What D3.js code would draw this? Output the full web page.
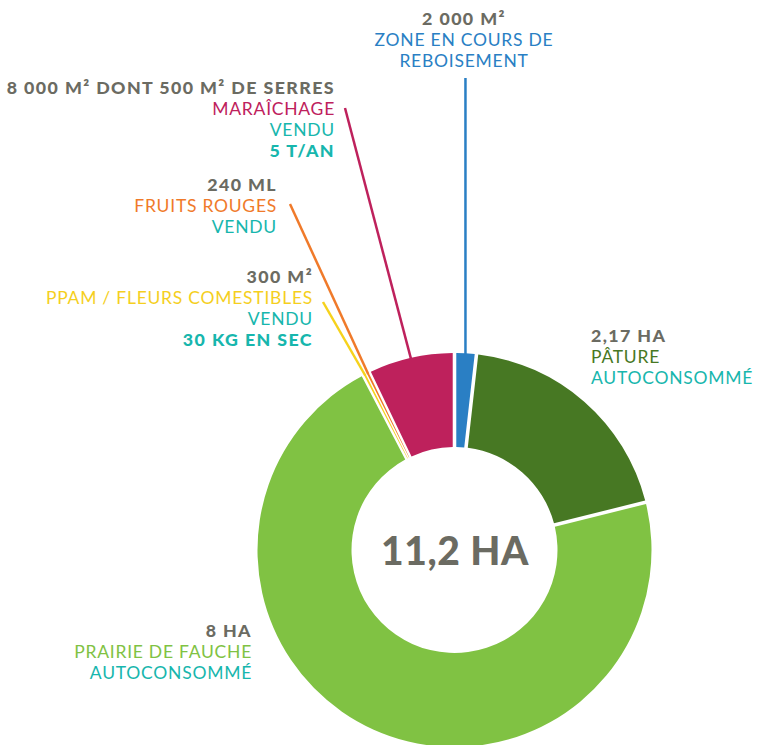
<!DOCTYPE html>
<html><head><meta charset="utf-8">
<script src="https://cdn.jsdelivr.net/npm/d3@7"></script>
<style>
html,body{margin:0;padding:0;background:#fff;}
svg{display:block;}
text{font-family:Lato,"Open Sans",sans-serif;}
</style></head>
<body>
<svg id="chart" width="770" height="745"></svg>
<script>
// ---- data ----
const categories = ["ZONE EN COURS DE REBOISEMENT","PÂTURE","PRAIRIE DE FAUCHE","PPAM / FLEURS COMESTIBLES","FRUITS ROUGES","MARAÎCHAGE"];
const areaHa = [0.2, 2.17, 8, 0.03, 0.03, 0.8];
const sizeLabels = ["2 000 M²","2,17 HA","8 HA","300 M²","240 ML","8 000 M² DONT 500 M² DE SERRES"];
const useLabels = ["","AUTOCONSOMMÉ","AUTOCONSOMMÉ","VENDU","VENDU","VENDU"];
const yieldLabels = ["","","","30 KG EN SEC","","5 T/AN"];
const totalLabel = "11,2 HA";
const colors = ["#2a7fc4","#477823","#80c243","#f6d21c","#f07a2a","#be215c"];

// ---- layout ----
const GRAY = "#6b6b62", TEAL = "#17b6ad";
const cx = 454.5, cy = 550, R = 197, r0 = 103;
const FS = 17.5, LH = 21;
const layout = [
  {x:464, y:25, anchor:"middle", leader:[465.5, 78]},
  {x:591, y:342, anchor:"start"},
  {x:252, y:637, anchor:"end"},
  {x:313, y:283, anchor:"end", leader:[323, 302]},
  {x:277, y:191, anchor:"end", leader:[290, 204]},
  {x:335, y:94, anchor:"end", leader:[345, 108]}
];

const svg = d3.select("#chart");
const g = svg.append("g").attr("transform", `translate(${cx},${cy})`);

const pie = d3.pie().sort(null).value(d => d)(areaHa);
const arc = d3.arc().innerRadius(r0).outerRadius(R)
  .padAngle(d => d.value < 0.1 ? 0.006 : 0.016);

g.selectAll("path.slice").data(pie).join("path")
  .attr("class","slice")
  .attr("d", arc)
  .attr("fill", (d,i) => colors[i]);

// leader lines
pie.forEach((d,i) => {
  const L = layout[i];
  if (!L.leader) return;
  const mid = (d.startAngle + d.endAngle) / 2;
  const ex = cx + (R - 1) * Math.sin(mid), ey = cy - (R - 1) * Math.cos(mid);
  let sx = L.leader[0], sy = L.leader[1];
  if (i === 0) sx = ex;
  svg.append("line")
    .attr("x1", sx).attr("y1", sy).attr("x2", ex).attr("y2", ey)
    .attr("stroke", colors[i]).attr("stroke-width", 2.5);
});

// labels
categories.forEach((c,i) => {
  const L = layout[i];
  const lines = [];
  lines.push({t:sizeLabels[i], fill:GRAY, w:900});
  if (i === 0) {
    lines.push({t:"ZONE EN COURS DE", fill:colors[0], w:400});
    lines.push({t:"REBOISEMENT", fill:colors[0], w:400});
  } else {
    lines.push({t:c, fill: i === 3 ? "#f5cf1e" : colors[i], w:400});
    if (useLabels[i]) lines.push({t:useLabels[i], fill:TEAL, w:400});
    if (yieldLabels[i]) lines.push({t:yieldLabels[i], fill:TEAL, w:900});
  }
  const t = svg.append("text").attr("text-anchor", L.anchor).attr("font-size", FS);
  lines.forEach((ln,k) => {
    t.append("tspan").attr("x", L.x).attr("y", L.y + k*LH)
      .attr("fill", ln.fill).attr("font-weight", ln.w)
      .attr("font-size", ln.w === 900 ? 17.8 : FS)
      .attr("letter-spacing", ln.w === 900 ? 1.4 : 0.75)
      .text(ln.t);
  });
});

// center total
svg.append("text").attr("x", cx + 0.5).attr("y", 565)
  .attr("text-anchor","middle").attr("font-size", 39).attr("font-weight", 900)
  .attr("letter-spacing", 0.6)
  .attr("fill", GRAY).text(totalLabel);
</script>
</body></html>
